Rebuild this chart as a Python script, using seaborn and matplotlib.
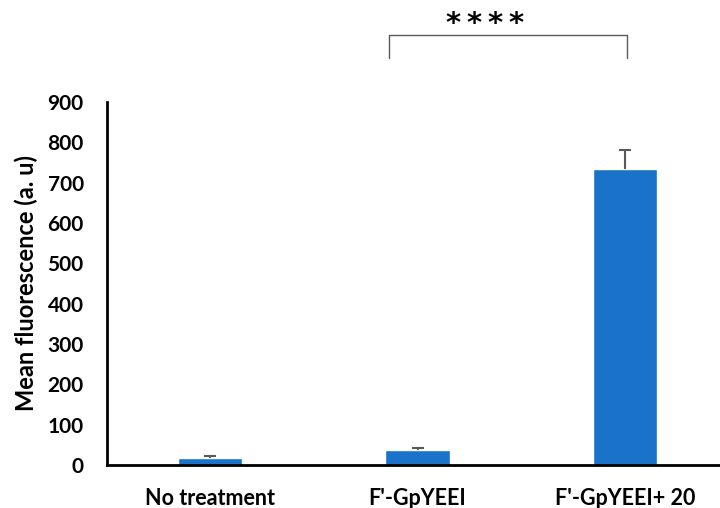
import numpy as np
import pandas as pd
import matplotlib
matplotlib.use("Agg")
import matplotlib.pyplot as plt
import seaborn as sns

categories = ["No treatment", "F'-GpYEEI", "F'-GpYEEI+ 20"]
means = [17, 37, 735]
errors = [4, 4, 45]
yticks = [0, 100, 200, 300, 400, 500, 600, 700, 800, 900]

sns.set_theme(style="white")
plt.rcParams["font.family"] = ["Lato", "DejaVu Sans"]

BAR_BLUE = "#1a73c9"

df = pd.DataFrame({"group": categories, "mean": means})

fig = plt.figure(figsize=(7.2, 5.08), dpi=100)
ax = fig.add_axes([0.149, 0.085, 0.851, 0.714])

sns.barplot(data=df, x="group", y="mean", color=BAR_BLUE, width=0.31,
            saturation=1, ax=ax, zorder=2)
eb = ax.errorbar(range(len(categories)), means,
                 yerr=[np.zeros(len(errors)), errors],
                 fmt="none", ecolor="#595959", elinewidth=1.5, capsize=4,
                 capthick=1.5, zorder=3)
eb[1][0].set_visible(False)  # hide the lower cap

ax.set_ylim(0, 900)
ax.set_xlim(-0.496, 2.458)
ax.set_yticks(yticks)
ax.set_yticklabels([str(t) for t in yticks], fontsize=15, fontweight="bold")
ax.set_xticks(range(len(categories)))
ax.set_xticklabels(categories, fontsize=15.5, fontweight="bold")
ax.tick_params(axis="y", length=0, pad=17, colors="black")
ax.tick_params(axis="x", length=0, pad=17, colors="black")
ax.set_xlabel("")
ax.set_ylabel("Mean fluorescence (a. u)", fontsize=17, fontweight="bold",
              labelpad=7, color="black")

for side in ["top", "right"]:
    ax.spines[side].set_visible(False)
for side in ["left", "bottom"]:
    ax.spines[side].set_color("black")
    ax.spines[side].set_linewidth(2)

# significance bracket
x1, x2 = 0.863, 2.01
y_low, y_high = 1009, 1066
ax.plot([x1, x1, x2, x2], [y_low, y_high, y_high, y_low], color="#595959",
        linewidth=1.0, clip_on=False)
ax.text(1.325, 1095, "*\u2009*\u2009*\u2009*", ha="center", va="center",
        fontsize=21, fontweight="bold", family="DejaVu Sans", color="black")

fig.savefig("out.png", dpi=100)
